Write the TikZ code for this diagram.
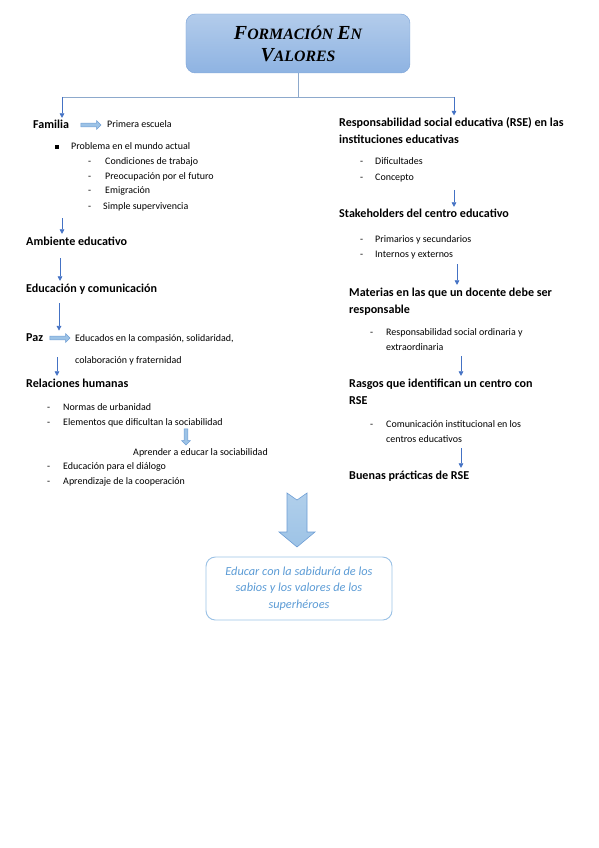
\documentclass[tikz,border=0pt]{standalone}
\usepackage{fontspec}
\setmainfont{Carlito}
\newfontfamily\titlefont{Liberation Serif}
\usetikzlibrary{arrows.meta,shapes.arrows,positioning}

\definecolor{linkblue}{HTML}{4472C4}
\definecolor{treeline}{HTML}{8DA9CC}
\definecolor{titletop}{HTML}{B3CCEB}
\definecolor{titlebot}{HTML}{8EB3E2}
\definecolor{titleline}{HTML}{7FA6D9}
\definecolor{fatfill}{HTML}{9DC3E6}
\definecolor{fatline}{HTML}{6D9DD4}
\definecolor{endblue}{HTML}{5B9BD5}
\definecolor{endline}{HTML}{9DC3E6}

\newcommand{\tcap}[2]{{\fontsize{17}{22}\selectfont #1}{\fontsize{13.5}{22}\selectfont #2}}

\tikzset{
  plain/.style={font=\fontsize{8.5}{10}\selectfont, anchor=base west, inner sep=0pt},
  heading/.style={font=\fontsize{10.3}{12}\selectfont\bfseries, anchor=base west, inner sep=0pt},
  flow/.style={draw=linkblue, line width=0.6pt, shorten >=2pt, -{Triangle[width=4pt,length=4pt]}},
  tree/.style={draw=treeline, line width=0.6pt},
  fatarrow/.style={single arrow, draw=fatline, fill=fatfill, line width=0.4pt,
    inner sep=1.4pt, single arrow head extend=2pt, minimum height=0.6cm},
}

\begin{document}
\begin{tikzpicture}[x=0.03cm,y=-0.03cm]
  \useasboundingbox (0,0) rectangle (599,848);

  % title and tree
  \node[draw=titleline, rounded corners=8pt, top color=titletop, bottom color=titlebot,
    minimum width=6.72cm, minimum height=1.77cm, align=center,
    font=\titlefont\bfseries\itshape\fontsize{13.5}{19}\selectfont] (title) at (298,43.5)
    {\tcap{F}{ORMACIÓN} \tcap{E}{N}\\\tcap{V}{ALORES}};
  \coordinate (forkL) at (62,97);
  \coordinate (forkR) at (454,97);
  \draw[tree] (title.south) -- (title.south |- forkL);
  \draw[tree] (forkL) -- (forkR);

  % left column
  \node[heading] (familia) at (33,129) {Familia};
  \node[plain] (primera) at (107,128) {Primera escuela};
  \node[fatarrow] (famarrow) at (90,125) {};
  \draw[flow] (forkL) -- (forkL |- familia.north);

  \node[fill=black, minimum size=2.6pt, inner sep=0pt] (bullet) at (57,147) {};
  \node[plain] (problema) at (71,150) {Problema en el mundo actual};
  \foreach \y/\x/\t [count=\i] in {165/105/Condiciones de trabajo, 180/105/Preocupación por el futuro,
      194/105/Emigración, 209/103/Simple supervivencia} {
    \node[plain] (pdash\i) at (88,\y) {-};
    \node[plain] (prob\i) at (\x,\y) {\t};
  }

  \node[heading] (ambiente) at (26,245) {Ambiente educativo};
  \coordinate (s1) at (62,218);
  \draw[flow] (s1) -- (s1 |- ambiente.north);

  \node[heading] (educacion) at (26,292) {Educación y comunicación};
  \coordinate (s2) at (60,258);
  \draw[flow] (s2) -- (s2 |- educacion.north);

  \node[heading] (paz) at (26,341) {Paz};
  \coordinate (s3) at (59,303);
  \draw[flow] (s3) -- (s3 |- paz.north);
  \node[fatarrow] (pazarrow) at (59,338) {};
  \node[plain] (compasion) at (75,341) {Educados en la compasión, solidaridad,};
  \node[plain] (colab) at (75,363) {colaboración y fraternidad};

  \node[heading] (relaciones) at (26,387) {Relaciones humanas};
  \coordinate (s4) at (57,357);
  \draw[flow] (s4) -- (s4 |- relaciones.north);
  \foreach \y/\t [count=\i] in {410/Normas de urbanidad, 425/Elementos que dificultan la sociabilidad,
      469/Educación para el diálogo, 484/Aprendizaje de la cooperación} {
    \node[plain] (rdash\i) at (47,\y) {-};
    \node[plain] (rel\i) at (63,\y) {\t};
  }
  \node[plain] (aprender) at (133,455) {Aprender a educar la sociabilidad};
  \node[fatarrow, shape border rotate=270, minimum height=0.48cm] (socarrow) at (186,436) {};

  % right column
  \node[heading] (rse1) at (339,127) {Responsabilidad social educativa (RSE) en las};
  \node[heading] (rse2) at (339,144) {instituciones educativas};
  \draw[flow] (forkR) -- (forkR |- rse1.north);
  \foreach \y/\t [count=\i] in {165/Dificultades, 181/Concepto} {
    \node[plain] (edash\i) at (360,\y) {-};
    \node[plain] (rse\i a) at (375,\y) {\t};
  }

  \node[heading] (stake) at (339,218) {Stakeholders del centro educativo};
  \coordinate (r1) at (454,190);
  \draw[flow] (r1) -- (r1 |- stake.north);
  \foreach \y/\t [count=\i] in {242/Primarios y secundarios, 257/Internos y externos} {
    \node[plain] (sdash\i) at (360,\y) {-};
    \node[plain] (stake\i) at (375,\y) {\t};
  }

  \node[heading] (mat1) at (349,296) {Materias en las que un docente debe ser};
  \node[heading] (mat2) at (349,313) {responsable};
  \coordinate (r2) at (457,264);
  \draw[flow] (r2) -- (r2 |- mat1.north);
  \node[plain] (mdash) at (370,335) {-};
  \node[plain] (ord1) at (386,335) {Responsabilidad social ordinaria y};
  \node[plain] (ord2) at (386,350) {extraordinaria};

  \node[heading] (rasgos1) at (349,387) {Rasgos que identifican un centro con};
  \node[heading] (rasgos2) at (349,404) {RSE};
  \coordinate (r3) at (461,356);
  \draw[flow] (r3) -- (r3 |- rasgos1.north);
  \node[plain] (cdash) at (370,427) {-};
  \node[plain] (com1) at (386,427) {Comunicación institucional en los};
  \node[plain] (com2) at (386,442) {centros educativos};

  \node[heading] (buenas) at (349,479) {Buenas prácticas de RSE};
  \coordinate (r4) at (461,448);
  \draw[flow] (r4) -- (r4 |- buenas.north);

  % conclusion
  \draw[draw=fatline, line width=0.5pt, top color=fatfill!80, bottom color=fatfill]
    (287,493) -- (297,500) -- (307,493) -- (307,532) -- (315,532) -- (297,547)
    -- (279,532) -- (287,532) -- cycle;
  \node[draw=endline, line width=0.8pt, rounded corners=8pt, minimum width=5.58cm,
    minimum height=1.89cm, align=center, text=endblue,
    font=\fontsize{10.5}{14}\selectfont\itshape] (final) at (299,588.5)
    {Educar con la sabiduría de los\\sabios y los valores de los\\superhéroes};
\end{tikzpicture}
\end{document}
